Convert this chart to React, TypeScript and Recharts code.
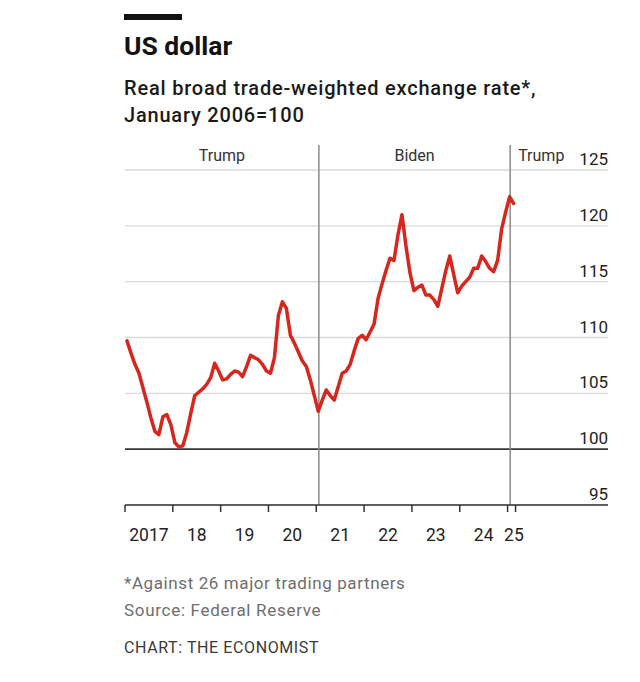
import React from 'react';
import { LineChart, Line, XAxis, YAxis, CartesianGrid, ReferenceLine, ReferenceArea } from 'recharts';

// Monthly index, Jan 2017 (index 0) to Feb 2025
const rateValues = [
  109.7, 108.6, 107.6, 106.8, 105.5, 104.2, 102.8, 101.6, 101.3, 102.9, 103.1, 102.2,
  100.6, 100.2, 100.3, 101.5, 103.2, 104.8, 105.1, 105.4, 105.8, 106.4, 107.7, 107.0,
  106.2, 106.3, 106.7, 107.0, 106.9, 106.5, 107.4, 108.4, 108.2, 108.0, 107.6, 107.0,
  106.8, 108.2, 112.0, 113.2, 112.6, 110.2, 109.5, 108.7, 107.9, 107.4, 106.2, 104.8,
  103.4, 104.4, 105.3, 104.8, 104.4, 105.6, 106.8, 107.0, 107.6, 108.8, 109.9, 110.2,
  109.8, 110.5, 111.2, 113.5, 114.8, 116.0, 117.1, 116.9, 119.2, 121.0, 118.2, 115.8,
  114.2, 114.5, 114.7, 113.8, 113.8, 113.4, 112.8, 114.4, 116.0, 117.3, 115.6, 114.0,
  114.6, 115.0, 115.4, 116.2, 116.2, 117.3, 116.8, 116.2, 115.9, 116.9, 119.7, 121.2,
  122.6, 122.0,
];

const yTicks = [95, 100, 105, 110, 115, 120, 125];
const yearTickMonths = [0, 12, 24, 36, 48, 60, 72, 84, 96, 98];
const xLabels = ['2017', '18', '19', '20', '21', '22', '23', '24', '25'];
const xLabelMonths = [6, 18, 30, 42, 54, 66, 78, 90, 97.6];
const terms = [
  { name: 'Trump', from: 0, to: 48.65, align: 'middle' },
  { name: 'Biden', from: 48.65, to: 96.65, align: 'middle' },
  { name: 'Trump', from: 96.65, to: 121.2, align: 'start' },
];
const inaugurations = [48.65, 96.65];

const data = rateValues.map((v, i) => ({ t: i + 0.5, v }));

const FONT = 'Roboto, "Liberation Sans", sans-serif';

const periodLabel = (text: string, align: string) => (props: any) => {
  const vb = props && props.viewBox ? props.viewBox : { x: 0, y: 0, width: 0 };
  const x = align === 'middle' ? vb.x + vb.width / 2 : vb.x + 8;
  return (
    <text x={x} y={vb.y + 16} textAnchor={align === 'middle' ? 'middle' : 'start'}
      fontSize={16} fill="#333" fontFamily={FONT}>{text}</text>
  );
};

const YTick = (props: any) => {
  const { x, y, payload } = props;
  return (
    <text x={x} y={y - 5} textAnchor="end" fontSize={17} fill="#222" fontFamily={FONT}>
      {payload.value}
    </text>
  );
};

const EmptyTick = () => <g />;

export default function App() {
  return (
    <div style={{ position: 'absolute', left: 0, top: 0, width: 640, height: 682, background: '#fff', fontFamily: FONT }}>
      <svg width={640} height={682} style={{ position: 'absolute', left: 0, top: 0 }}>
        <rect x={124} y={14} width={58} height={6} fill="#121212" />
        <text x={124} y={55} fontSize={26.5} fontWeight={700} fill="#121212" fontFamily={FONT}>US dollar</text>
        <text x={124} y={95} fontSize={20} fontWeight={500} letterSpacing={0.8} fill="#1a1a1a" fontFamily={FONT}>Real broad trade-weighted exchange rate*,</text>
        <text x={124} y={122} fontSize={20} fontWeight={500} letterSpacing={0.8} fill="#1a1a1a" fontFamily={FONT}>January 2006=100</text>
        <text x={124} y={589} fontSize={17} letterSpacing={0.6} fill="#6e6e6e" fontFamily={FONT}>*Against 26 major trading partners</text>
        <text x={124} y={616} fontSize={17} letterSpacing={0.7} fill="#6e6e6e" fontFamily={FONT}>Source: Federal Reserve</text>
        <text x={124} y={653} fontSize={16} letterSpacing={0.6} fill="#3a3a3a" fontFamily={FONT}>CHART: THE ECONOMIST</text>
      </svg>
      <div style={{ position: 'absolute', left: 0, top: 0 }}>
        <LineChart width={640} height={560} data={data} margin={{ top: 145, right: 31, bottom: 7, left: 125 }}>
          <CartesianGrid vertical={false} stroke="#d9d9d9" strokeWidth={1.3} yAxisId="y" xAxisId="ax0"
            horizontalValues={yTicks} />
          <XAxis xAxisId="ax1" dataKey="t" type="number" domain={[0, 121.2]} ticks={xLabelMonths}
            interval={0} height={40} tickSize={16} tickMargin={0} tickLine={false} axisLine={false}
            tickFormatter={(_v: any, i: number) => xLabels[i]}
            tick={{ fontSize: 17.5, fill: '#222', fontFamily: FONT }} allowDataOverflow />
          <XAxis xAxisId="ax0" dataKey="t" type="number" domain={[0, 121.2]} ticks={yearTickMonths}
            interval={0} height={8} tick={EmptyTick} tickSize={7} tickLine={{ stroke: '#333', strokeWidth: 1.5 }}
            axisLine={{ stroke: '#333', strokeWidth: 1.5 }} allowDataOverflow />
          <YAxis yAxisId="y" orientation="right" type="number" domain={[95, 127.24]} ticks={yTicks}
            interval={0} width={1} tickSize={0} tickMargin={0} tickLine={false} axisLine={false}
            tick={YTick} allowDataOverflow />
          {terms.map((p, i) => (
            <ReferenceArea key={'a' + i} xAxisId="ax0" yAxisId="y" x1={p.from} x2={p.to}
              fill="none" fillOpacity={0} stroke="none" label={periodLabel(p.name, p.align)} />
          ))}
          <ReferenceLine xAxisId="ax0" yAxisId="y" y={100} stroke="#3a3a3a" strokeWidth={1.8} />
          {inaugurations.map((m, i) => (
            <ReferenceLine key={'l' + i} xAxisId="ax0" yAxisId="y" x={m} stroke="#8a8a8a" strokeWidth={1.5} />
          ))}
          <Line xAxisId="ax0" yAxisId="y" type="linear" dataKey="v" stroke="#d6261d" strokeWidth={3.5}
            dot={false} isAnimationActive={false} strokeLinejoin="round" strokeLinecap="round" />
        </LineChart>
      </div>
    </div>
  );
}
